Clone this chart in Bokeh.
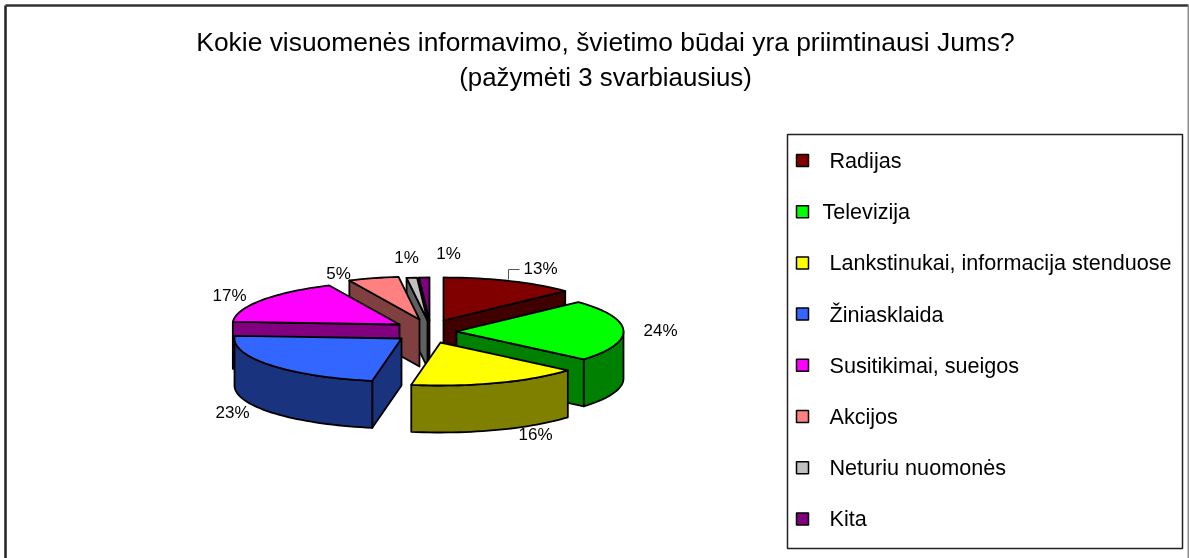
import math
from bokeh.plotting import figure
from bokeh.core.properties import value
from bokeh.embed import file_html
from bokeh.resources import INLINE

# ---- data ----
categories = ["Radijas", "Televizija", "Lankstinukai, informacija stenduose", "Žiniasklaida",
              "Susitikimai, sueigos", "Akcijos", "Neturiu nuomonės", "Kita"]
shares = [13.0, 23.2, 16.6, 23.2, 17.1, 4.9, 1.0, 1.0]
labels = ["13%", "24%", "16%", "23%", "17%", "5%", "1%", "1%"]
title_lines = ["Kokie visuomenės informavimo, švietimo būdai yra priimtinausi Jums?",
               "(pažymėti 3 svarbiausius)"]

# ---- styles ----
top_colors = ["#800000", "#00FF00", "#FFFF00", "#3366FF", "#FF00FF", "#FF8080", "#C0C0C0", "#800080"]
wall_colors = ["#400000", "#008000", "#808000", "#1A337F", "#800080", "#804040", "#606060", "#400040"]
FONT = value("Liberation Sans")

# ---- layout (page pixels) ----
W, H = 1189, 558
CX, CY, RX, RY, DEPTH = 428, 331, 167, 43, 47
explode_dx = [15, 28, 12, -27, -29, -9, -1, 1]
explode_dy = [-11, 0, 11, 7, -7, -12, -11, -11]
draw_order = [0, 7, 6, 5, 4, 1, 3, 2]
label_x = [540, 660, 535, 232, 229, 338, 406, 448]
label_y = [268, 330, 434, 412, 295, 273, 257, 253]
legend_text_x = [829, 822, 829, 829, 829, 829, 829, 829]
legend_y0, legend_step = 160, 51.2

p = figure(width=W, height=H, x_range=(0, W), y_range=(H, 0), output_backend="svg",
           toolbar_location=None, min_border=0, outline_line_color=None)
p.axis.visible = False
p.grid.visible = False
p.styles = {"position": "fixed", "left": "0px", "top": "0px"}

# chart frame
p.line([5, 5], [5, H], line_color="#222222", line_width=2.5)
p.line([5, 1188], [5, 5], line_color="#333333", line_width=2.5)
p.line([1188, 1188], [5, H], line_color="#8a8a8a", line_width=2)

# title
for line, y, size in zip(title_lines, [41, 76], ["26.4px", "25.8px"]):
    p.text([605], [y], text=[line], text_font=FONT, text_font_size=size, text_color="black",
           text_align="center", text_baseline="middle")

# pie geometry
edges = [0.0]
total = sum(shares)
for s in shares:
    edges.append(edges[-1] + 360.0 * s / total)


def pt(ax, ay, deg, drop=0.0):
    r = math.radians(deg)
    return ax + RX * math.sin(r), ay - RY * math.cos(r) + drop


def arc(ax, ay, a, b, drop=0.0):
    n = max(2, int(abs(b - a) / 2) + 1)
    return [pt(ax, ay, a + (b - a) * i / (n - 1), drop) for i in range(n)]


def poly(points, color):
    p.patch([q[0] for q in points], [q[1] for q in points], fill_color=color,
            line_color="black", line_width=1.8, line_join="round")


def wall(ax, ay, deg, color):
    e = pt(ax, ay, deg)
    poly([(ax, ay), e, (e[0], e[1] + DEPTH), (ax, ay + DEPTH)], color)


for i in draw_order:
    a, b = edges[i], edges[i + 1]
    ax, ay = CX + explode_dx[i], CY + explode_dy[i]
    # radial walls that face the viewer
    if 180 < a < 360:
        wall(ax, ay, a, wall_colors[i])
    if 0 < b < 180:
        wall(ax, ay, b, wall_colors[i])
    # outer rim where it faces the viewer
    lo, hi = max(a, 90), min(b, 270)
    if lo < hi:
        front = arc(ax, ay, lo, hi)
        poly(front + arc(ax, ay, hi, lo, DEPTH), wall_colors[i])
    # top face
    poly([(ax, ay)] + arc(ax, ay, a, b), top_colors[i])

# leader of the first label
p.line([508, 508, 519], [279, 269, 269], line_color="#555555", line_width=1)

# data labels
p.text(label_x, label_y, text=labels, text_font=FONT, text_font_size="17px", text_color="black",
       text_align="center", text_baseline="middle")

# legend
p.quad(left=[787], right=[1182], top=[134], bottom=[548], fill_color="white",
       line_color="#222222", line_width=1.5)
leg_y = [legend_y0 + k * legend_step for k in range(len(categories))]
p.scatter([802] * len(categories), leg_y, marker="square", size=12, fill_color=top_colors,
          line_color="black", line_width=1.5)
p.text(legend_text_x, leg_y, text=categories, text_font=FONT, text_font_size="21.6px", text_color="black",
       text_align="left", text_baseline="middle")

open("out.html", "w").write(file_html(p, INLINE))
